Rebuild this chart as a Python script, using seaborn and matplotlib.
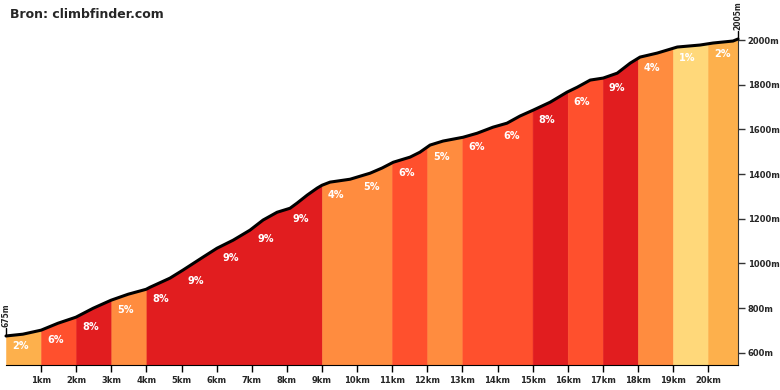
import matplotlib
matplotlib.use("Agg")
import matplotlib.pyplot as plt
import seaborn as sns
import numpy as np
import pandas as pd

# profile points (km, metres)
dist = [0, 0.48, 1.0, 1.48, 1.99, 2.48, 2.99, 3.48, 3.99, 4.10, 4.67, 5.04, 5.61,
        6.01, 6.47, 6.95, 7.32, 7.72, 8.09, 8.29, 8.58, 8.86, 9.0, 9.23, 9.80,
        10.37, 10.71, 11.03, 11.51, 11.79, 12.08, 12.45, 13.02, 13.42, 13.87,
        14.27, 14.64, 15.01, 15.50, 15.98, 16.27, 16.64, 17.01, 17.41, 17.78,
        18.06, 18.55, 19.12, 19.77, 20.14, 20.71, 20.85]
elev = [675, 683, 701, 732, 759, 799, 835, 862, 884, 893, 934, 970, 1028,
        1068, 1104, 1149, 1194, 1229, 1247, 1270, 1306, 1337, 1350, 1364, 1377,
        1404, 1427, 1453, 1476, 1498, 1530, 1548, 1565, 1583, 1610,
        1628, 1660, 1686, 1722, 1767, 1789, 1821, 1830, 1852, 1897,
        1924, 1942, 1969, 1978, 1987, 1996, 2005]

seg_start = list(range(21))
seg_end = list(range(1, 21)) + [20.85]
grades = [2, 6, 8, 5, 8, 9, 9, 9, 9, 4, 5, 6, 5, 6, 6, 8, 6, 9, 4, 1, 2]

km_ticks = list(range(1, 21))
m_ticks = list(range(600, 2001, 200))


def grade_color(g):
    if g <= 1:
        return "#ffd87a"
    if g <= 2:
        return "#fdb04c"
    if g <= 5:
        return "#ff8c3f"
    if g <= 7:
        return "#ff502d"
    return "#e11d1f"


sns.set_style("white")
plt.rcParams["font.family"] = ["DejaVu Sans"]

df = pd.DataFrame({"km": dist, "m": elev})
ymin, ymax = 545, 2005

fig = plt.figure(figsize=(7.8, 3.9), dpi=100)
ax = fig.add_axes([6 / 780, 25 / 390, 732 / 780, 326 / 390])

# merge neighbouring segments of the same colour so no seams show
runs = []
for s, e, g in zip(seg_start, seg_end, grades):
    c = grade_color(g)
    if runs and runs[-1][2] == c:
        runs[-1][1] = e
    else:
        runs.append([s, e, c])

for s, e, c in runs:
    xs = np.linspace(s, e, 200)
    ys = np.interp(xs, dist, elev)
    ax.fill_between(xs, ymin, ys, facecolor=c, edgecolor=c, linewidth=0.4)

for s, g in zip(seg_start, grades):
    y0 = np.interp(s, dist, elev)
    ax.text(s + 0.17, y0 - 45, f"{g}%", color="white", fontsize=7,
            fontweight="bold", ha="left", va="center", zorder=4)

sns.lineplot(data=df, x="km", y="m", ax=ax, color="black", linewidth=2.2,
             clip_on=False, zorder=5)

ax.set_xlim(0, seg_end[-1])
ax.set_ylim(ymin, ymax)
ax.set_xlabel("")
ax.set_ylabel("")

for side in ["left", "top"]:
    ax.spines[side].set_visible(False)
ax.spines["bottom"].set_color("black")
ax.spines["right"].set_color("#333333")

ax.set_xticks(km_ticks)
ax.set_xticklabels([f"{k}km" for k in km_ticks], fontsize=6, fontweight="bold")
ax.yaxis.tick_right()
ax.set_yticks(m_ticks)
ax.set_yticklabels([f"{m}m" for m in m_ticks], fontsize=6, fontweight="bold")
ax.tick_params(axis="x", length=5, width=1, color="black", pad=3, bottom=True)
ax.tick_params(axis="y", length=5, width=1, color="#333333", pad=2, right=True)

# start / end elevation markers
for x, m in [(dist[0], elev[0]), (dist[-1], elev[-1])]:
    ax.plot([x, x], [m, m + 35], color="black", linewidth=1, clip_on=False)
    ax.text(x, m + 40, f"{m}m", rotation=90, fontsize=5.5, fontweight="bold",
            ha="center", va="bottom", clip_on=False)

fig.text(10 / 780, 1 - 15 / 390, "Bron: climbfinder.com", fontsize=9,
         fontweight="bold", ha="left", va="center")

fig.savefig("out.png", dpi=100)
